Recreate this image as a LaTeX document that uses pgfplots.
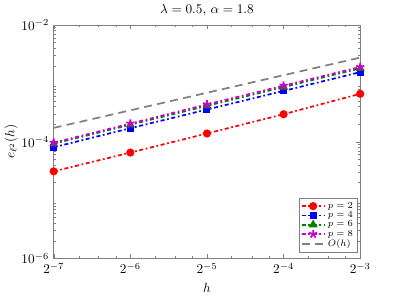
\documentclass[border={0pt 5pt 18pt 0pt}]{standalone}
\usepackage{pgfplots}
\pgfplotsset{compat=1.18}
\definecolor{mgreen}{rgb}{0,0.5,0}
\definecolor{mgray}{rgb}{0.5,0.5,0.5}
\definecolor{mmag}{rgb}{0.8,0,0.8}
\begin{document}
\begin{tikzpicture}
\begin{axis}[
  scale only axis,
  width=231pt, height=176pt,
  xmode=log, ymode=log, log basis x=2, log basis y=10,
  xmin=0.0078125, xmax=0.125,
  ymin=1e-6, ymax=1e-2,
  xtick={0.0078125,0.015625,0.03125,0.0625,0.125},
  xticklabels={$2^{-7}$,$2^{-6}$,$2^{-5}$,$2^{-4}$,$2^{-3}$},
  extra x ticks={0.0098,0.0117,0.0137,0.0195,0.0234,0.0273,0.039,0.0469,0.0547,0.078,0.0938,0.1094},
  extra x tick labels={},
  extra x tick style={major tick length=1.5pt},
  ytick={1e-6,1e-4,1e-2},
  minor ytick={2e-6,3e-6,4e-6,5e-6,6e-6,7e-6,8e-6,9e-6,2e-5,3e-5,4e-5,5e-5,6e-5,7e-5,8e-5,9e-5,2e-4,3e-4,4e-4,5e-4,6e-4,7e-4,8e-4,9e-4,2e-3,3e-3,4e-3,5e-3,6e-3,7e-3,8e-3,9e-3},
  tick align=inside,
  xtick pos=both, ytick pos=both,
  axis line style={black!50},
  tick style={black!50},
  major tick length=3pt, minor tick length=1.5pt,
  title={$\lambda = 0.5$, $\alpha = 1.8$},
  title style={yshift=-3pt},
  xlabel={$h$}, ylabel={$e_{\ell^2}(h)$},
  ylabel style={yshift=-4pt},
  legend style={at={(0.99,0.025)}, anchor=south east, font=\scriptsize, draw=black!50, row sep=-3pt, inner sep=1pt},
  legend cell align=left,
  every axis plot/.append style={line width=1.3pt},
]
\addplot[red, dash dot, mark=*, mark size=2.4pt, mark options={solid}] coordinates {
(0.0078125,3.1e-5) (0.015625,6.5e-5) (0.03125,1.38e-4) (0.0625,2.95e-4) (0.125,6.6e-4)};
\addlegendentry{$p=2$}
\addplot[blue, dash dot, mark=square*, mark size=2pt, mark options={solid}] coordinates {
(0.0078125,8.0e-5) (0.015625,1.7e-4) (0.03125,3.55e-4) (0.0625,7.4e-4) (0.125,1.55e-3)};
\addlegendentry{$p=4$}
\addplot[mgreen, dash dot, mark=triangle*, mark size=2.6pt, mark options={solid}] coordinates {
(0.0078125,9.2e-5) (0.015625,1.95e-4) (0.03125,4.1e-4) (0.0625,8.6e-4) (0.125,1.8e-3)};
\addlegendentry{$p=6$}
\addplot[mmag, dash dot, mark=star, mark size=3.2pt, mark options={solid}] coordinates {
(0.0078125,9.6e-5) (0.015625,2.04e-4) (0.03125,4.35e-4) (0.0625,9.1e-4) (0.125,1.9e-3)};
\addlegendentry{$p=8$}
\addplot[mgray, dash pattern=on 6pt off 4pt] coordinates {
(0.0078125,1.72e-4) (0.125,2.75e-3)};
\addlegendentry{$O(h)$}
\end{axis}
\end{tikzpicture}
\end{document}
